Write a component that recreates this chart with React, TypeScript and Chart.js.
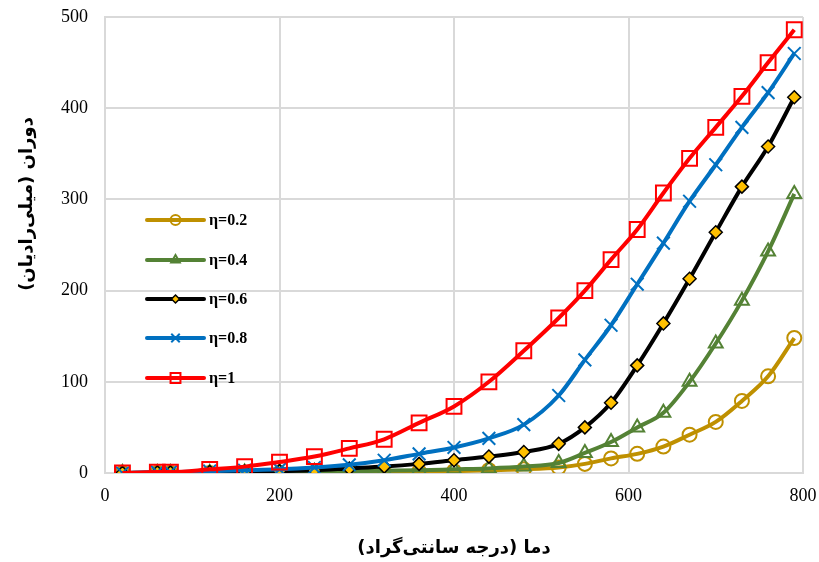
import React, { useEffect, useRef } from "react";
import { Chart, registerables } from "chart.js";

Chart.register(...registerables);

const xValues = [20, 60, 75, 120, 160, 200, 240, 280, 320, 360, 400, 440, 480, 520, 550, 580, 610, 640, 670, 700, 730, 760, 790];
const eta02 = [0, 0, 0, 0, 0, 0, 0.5, 0.5, 1, 1.5, 2, 3, 4, 6, 10, 16, 21, 29, 42, 56, 79, 106, 148];
const eta04 = [0, 0, 0, 0, 0.5, 1, 1.5, 2, 2.5, 3, 4, 5, 7, 11, 22, 34, 50, 66, 100, 142, 189, 243, 306];
const eta06 = [0, 0.5, 0.5, 1, 1.5, 2, 3, 5, 7, 10, 14, 18, 23, 32, 50, 77, 118, 164, 213, 264, 314, 358, 412];
const eta08 = [0, 1, 1, 2, 3, 4, 6, 9, 14, 21, 28, 38, 53, 85, 124, 162, 207, 252, 298, 338, 379, 417, 460];
const eta10 = [0, 1, 1, 4, 7, 12, 18, 27, 37, 55, 73, 100, 134, 170, 200, 234, 267, 307, 345, 379, 413, 450, 486];

const seriesLabels = ["η=0.2", "η=0.4", "η=0.6", "η=0.8", "η=1"];
const xTitle = "دما (درجه سانتی‌گراد)";
const yTitle = "دوران (میلی‌رادیان)";

type Style = { color: string; point: string; radius: number; fill: string; pBorder: string; pWidth: number; lRadius: number };
const styles: Style[] = [
  { color: "#BF9000", point: "circle", radius: 7, fill: "rgba(0,0,0,0)", pBorder: "#BF9000", pWidth: 2, lRadius: 5 },
  { color: "#548235", point: "triangle", radius: 8, fill: "rgba(0,0,0,0)", pBorder: "#548235", pWidth: 2, lRadius: 5 },
  { color: "#000000", point: "rectRot", radius: 6.5, fill: "#FFC000", pBorder: "#000000", pWidth: 1.5, lRadius: 4 },
  { color: "#0070C0", point: "crossRot", radius: 9, fill: "#0070C0", pBorder: "#0070C0", pWidth: 2, lRadius: 6 },
  { color: "#FF0000", point: "rect", radius: 10.5, fill: "rgba(0,0,0,0)", pBorder: "#FF0000", pWidth: 2, lRadius: 7 },
];

function drawMarker(ctx: CanvasRenderingContext2D, type: string, x: number, y: number, r: number) {
  ctx.beginPath();
  if (type === "circle") {
    ctx.arc(x, y, r, 0, Math.PI * 2);
  } else if (type === "triangle") {
    for (let i = 0; i < 3; i++) {
      const a = (i * 2 * Math.PI) / 3;
      const px = x + Math.sin(a) * r;
      const py = y - Math.cos(a) * r;
      if (i === 0) ctx.moveTo(px, py);
      else ctx.lineTo(px, py);
    }
    ctx.closePath();
  } else if (type === "rectRot") {
    ctx.moveTo(x - r, y);
    ctx.lineTo(x, y + r);
    ctx.lineTo(x + r, y);
    ctx.lineTo(x, y - r);
    ctx.closePath();
  } else if (type === "crossRot") {
    const o = r * Math.SQRT1_2;
    ctx.moveTo(x - o, y - o);
    ctx.lineTo(x + o, y + o);
    ctx.moveTo(x + o, y - o);
    ctx.lineTo(x - o, y + o);
  } else if (type === "rect") {
    const s = r * Math.SQRT1_2;
    ctx.rect(x - s, y - s, 2 * s, 2 * s);
  }
}

const overlayPlugin = {
  id: "overlay",
  afterDraw(chart: any) {
    const ctx: CanvasRenderingContext2D = chart.ctx;
    const area = chart.chartArea;
    ctx.save();
    ctx.fillStyle = "#000";
    ctx.font = "bold 18px 'DejaVu Sans'";
    ctx.textAlign = "center";
    ctx.textBaseline = "middle";
    ctx.direction = "rtl" as any;
    ctx.fillText(xTitle, (area.left + area.right) / 2, 548);
    ctx.save();
    ctx.translate(27, 204);
    ctx.rotate(-Math.PI / 2);
    ctx.fillText(yTitle, 0, 0);
    ctx.restore();
    ctx.direction = "ltr" as any;
    const rows = [220, 260, 299, 338, 378];
    for (let i = 0; i < styles.length; i++) {
      const st = styles[i];
      const y = rows[i];
      ctx.strokeStyle = st.color;
      ctx.lineWidth = 4;
      ctx.lineCap = "round";
      ctx.beginPath();
      ctx.moveTo(147, y);
      ctx.lineTo(204, y);
      ctx.stroke();
      ctx.lineCap = "butt";
      drawMarker(ctx, st.point, 175.5, y, st.lRadius);
      if (st.point !== "crossRot") {
        ctx.fillStyle = st.point === "rectRot" ? st.fill : "rgba(0,0,0,0)";
        ctx.fill();
      }
      ctx.strokeStyle = st.pBorder;
      ctx.lineWidth = st.pWidth;
      ctx.stroke();
      ctx.fillStyle = "#000";
      ctx.font = "bold 16px 'Liberation Serif'";
      ctx.textAlign = "left";
      ctx.textBaseline = "middle";
      ctx.fillText(seriesLabels[i], 209, y + 1);
    }
    ctx.restore();
  },
};

export default function App() {
  const ref = useRef<HTMLCanvasElement>(null);
  useEffect(() => {
    document.body.style.margin = "0";
    const series = [eta02, eta04, eta06, eta08, eta10];
    const datasets = series.map((vals, i) => {
      const st = styles[i];
      return {
        label: seriesLabels[i],
        data: xValues.map((x, j) => ({ x, y: vals[j] })),
        borderColor: st.color,
        backgroundColor: st.color,
        borderWidth: 4,
        pointStyle: st.point,
        pointRadius: st.radius,
        pointBackgroundColor: st.fill,
        pointBorderColor: st.pBorder,
        pointBorderWidth: st.pWidth,
        cubicInterpolationMode: "monotone",
        fill: false,
        order: 5 - i,
      };
    });
    const chart = new Chart(ref.current!, {
      type: "line",
      data: { datasets } as any,
      options: {
        animation: false,
        responsive: false,
        layout: { padding: { top: 17, right: 16, left: 0, bottom: 0 } },
        plugins: { legend: { display: false }, tooltip: { enabled: false } },
        scales: {
          x: {
            type: "linear",
            min: 0,
            max: 800,
            ticks: { stepSize: 200, color: "#000", font: { family: "'Liberation Serif'", size: 18 }, padding: 12 },
            grid: { color: "#d9d9d9", lineWidth: 2, drawTicks: false },
            border: { color: "#d9d9d9", width: 2 },
            afterFit: (s: any) => {
              s.height = 89;
              s.paddingLeft = 0;
              s.paddingRight = 0;
            },
          },
          y: {
            type: "linear",
            min: 0,
            max: 500,
            ticks: { stepSize: 100, color: "#000", font: { family: "'Liberation Serif'", size: 18 }, padding: 17 },
            grid: { color: "#d9d9d9", lineWidth: 2, drawTicks: false },
            border: { color: "#d9d9d9", width: 2 },
            afterFit: (s: any) => {
              s.width = 105;
              s.paddingTop = 0;
              s.paddingBottom = 0;
            },
          },
        },
      } as any,
      plugins: [overlayPlugin],
    });
    return () => chart.destroy();
  }, []);
  return (
    <div style={{ width: 819, height: 562 }}>
      <canvas ref={ref} width={819} height={562} style={{ display: "block" }} />
    </div>
  );
}
